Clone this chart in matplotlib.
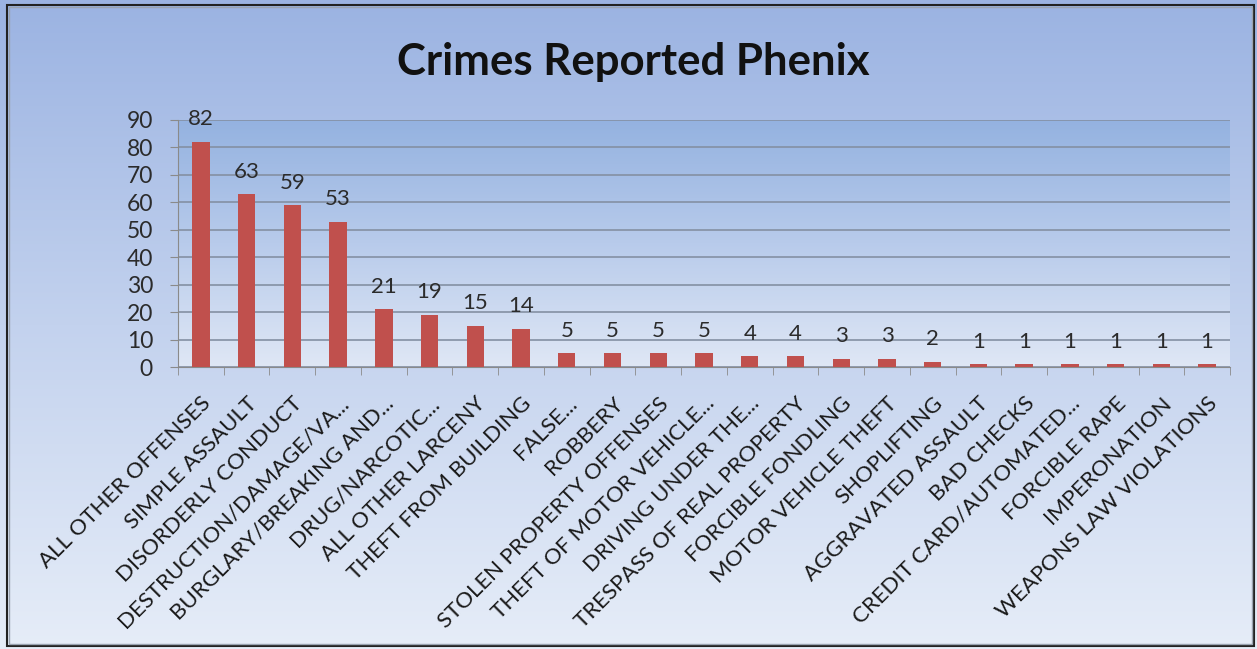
import numpy as np
import matplotlib.pyplot as plt
from matplotlib.patches import Rectangle
from matplotlib.colors import LinearSegmentedColormap

categories = ["ALL OTHER OFFENSES", "SIMPLE ASSAULT", "DISORDERLY CONDUCT",
              "DESTRUCTION/DAMAGE/VA...", "BURGLARY/BREAKING AND...",
              "DRUG/NARCOTIC...", "ALL OTHER LARCENY", "THEFT FROM BUILDING",
              "FALSE...", "ROBBERY", "STOLEN PROPERTY OFFENSES",
              "THEFT OF MOTOR VEHICLE...", "DRIVING UNDER THE...",
              "TRESPASS OF REAL PROPERTY", "FORCIBLE FONDLING",
              "MOTOR VEHICLE THEFT", "SHOPLIFTING", "AGGRAVATED ASSAULT",
              "BAD CHECKS", "CREDIT CARD/AUTOMATED...", "FORCIBLE RAPE",
              "IMPERONATION", "WEAPONS LAW VIOLATIONS"]
counts = [82, 63, 59, 53, 21, 19, 15, 14, 5, 5, 5, 5, 4, 4, 3, 3, 2, 1, 1, 1, 1, 1, 1]
yticks = [0, 10, 20, 30, 40, 50, 60, 70, 80, 90]

plt.rcParams['font.family'] = ['Lato', 'DejaVu Sans']
W, H = 1257, 649
fig = plt.figure(figsize=(W / 100, H / 100), dpi=100)

# background gradient
bg = fig.add_axes([0, 0, 1, 1])
bg_cmap = LinearSegmentedColormap.from_list('bg', ['#9bb3e2', '#c3d2ee', '#e6edf8'])
bg.imshow(np.linspace(0, 1, 256).reshape(-1, 1), aspect='auto', cmap=bg_cmap,
          extent=[0, W, H, 0])
bg.set_xlim(0, W)
bg.set_ylim(H, 0)
bg.axis('off')
bg.add_patch(Rectangle((7, 5), 1247, 641, fill=False, edgecolor='#222222', lw=1.5))
bg.add_patch(Rectangle((9, 7), 1243, 637, fill=False, edgecolor='#9aa3b0', lw=1))

left, right, top, bottom = 178, 1230, 120, 367
ax = fig.add_axes([left / W, 1 - bottom / H, (right - left) / W, (bottom - top) / H])
ax.set_facecolor('none')
pa_cmap = LinearSegmentedColormap.from_list('pa', ['#94b2e0', '#b8cbeb', '#dfe7f5'])
n = len(categories)
ax.imshow(np.linspace(0, 1, 256).reshape(-1, 1), aspect='auto', cmap=pa_cmap,
          extent=[-0.5, n - 0.5, 0, 90], zorder=0)

x = np.arange(n)
ax.bar(x, counts, width=0.38, color='#c0504d', zorder=3)
for xi, v in zip(x, counts):
    ax.annotate(str(v), (xi, v), xytext=(0, 9), textcoords='offset points',
                ha='center', va='bottom', fontsize=16, color='#2b2b2b')

ax.set_xlim(-0.5, n - 0.5)
ax.set_ylim(0, 90)
ax.set_yticks(yticks)
ax.set_yticklabels([str(t) for t in yticks], fontsize=16.5, color='#2b2b2b')
ax.yaxis.grid(True, color='#8490a3', lw=1.2, zorder=1)
ax.set_axisbelow(True)
ax.tick_params(axis='y', length=6, color='#8a8a8a', pad=12)

ax.set_xticks(x)
ax.set_xticklabels(categories, rotation=45, ha='right', va='top',
                   rotation_mode='anchor', fontsize=16, color='#1a1a1a')
ax.tick_params(axis='x', length=0, pad=19)
ax.set_xticks(np.arange(n + 1) - 0.5, minor=True)
ax.tick_params(axis='x', which='minor', length=6, color='#8a8a8a')

for s in ['top', 'right']:
    ax.spines[s].set_visible(False)
ax.spines['left'].set_color('#8a8a8a')
ax.spines['bottom'].set_color('#8a8a8a')

fig.text(0.504, 1 - 62 / H, 'Crimes Reported Phenix', ha='center', va='center',
         fontsize=31.5, fontweight='bold', color='#111111')

fig.savefig('out.png', dpi=100)
